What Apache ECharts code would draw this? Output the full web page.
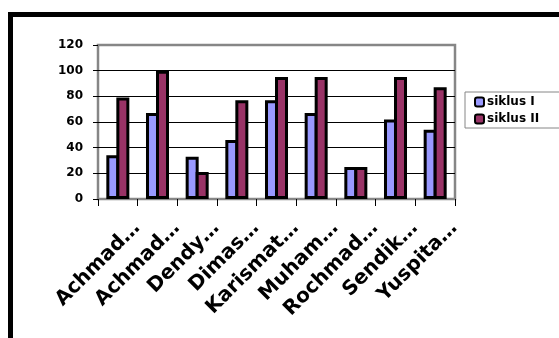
<!DOCTYPE html>
<html>
<head>
  <meta charset="utf-8">
</head>
<body style="margin: 0; background: #fff">
  <div id="container" style="width: 559px; height: 338px"></div>

  <script type="text/javascript" src="https://cdn.jsdelivr.net/npm/echarts@6/dist/echarts.min.js"></script>
  <script type="text/javascript">
    // data
    var names = ['Achmad…', 'Achmad…', 'Dendy…', 'Dimas…', 'Karismat…', 'Muham…', 'Rochmad…', 'Sendik…', 'Yuspita…'];
    var siklus1 = [34, 67, 33, 46, 77, 67, 25, 62, 54];
    var siklus2 = [79, 100, 21, 77, 95, 95, 25, 95, 87];

    var chart = echarts.init(document.getElementById('container'), null, { renderer: 'canvas' });

    var labelFont = { fontFamily: 'DejaVu Sans', fontWeight: 'bold', color: '#000' };

    var option = {
      animation: false,
      backgroundColor: '#fff',
      graphic: [{
        type: 'rect',
        shape: { x: 10.5, y: 14.5, width: 600, height: 400 },
        style: { fill: 'none', stroke: '#000', lineWidth: 5 },
        z: 100
      }],
      grid: {
        left: 98, right: 104, top: 45, bottom: 139,
        show: true, borderColor: '#868686', borderWidth: 2.5,
        outerBoundsMode: 'none'
      },
      legend: {
        orient: 'vertical',
        left: 465, top: 92,
        padding: [4, 40, 3, 9],
        itemWidth: 9, itemHeight: 9, itemGap: 5,
        borderColor: '#868686', borderWidth: 1,
        itemStyle: { borderWidth: 2 },
        textStyle: Object.assign({ fontSize: 12, padding: [0, 0, 0, -2] }, labelFont),
        data: ['siklus I', 'siklus II']
      },
      xAxis: {
        type: 'category',
        data: names,
        axisLine: { show: false },
        axisTick: { show: true, length: 7, lineStyle: { color: '#000' } },
        axisLabel: Object.assign({
          rotate: 45, interval: 0, fontSize: 20,
          margin: 45, padding: [0, -27, 0, 0]
        }, labelFont)
      },
      yAxis: {
        type: 'value',
        min: 0, max: 120, interval: 20,
        axisLine: { show: false },
        axisTick: { show: true, length: 5, lineStyle: { color: '#000' } },
        axisLabel: Object.assign({ fontSize: 12, margin: 15 }, labelFont),
        splitLine: { show: true, showMinLine: false, showMaxLine: false, lineStyle: { color: '#000', width: 1 } }
      },
      series: [{
        name: 'siklus I',
        type: 'bar',
        data: siklus1,
        barWidth: 13,
        barGap: '-23%',
        itemStyle: { color: '#9999FF', borderColor: '#000', borderWidth: 3 }
      }, {
        name: 'siklus II',
        type: 'bar',
        data: siklus2,
        barWidth: 13,
        barGap: '-23%',
        itemStyle: { color: '#993366', borderColor: '#000', borderWidth: 3 }
      }]
    };

    chart.setOption(option);
    window.addEventListener('resize', chart.resize);
  </script>
</body>
</html>
